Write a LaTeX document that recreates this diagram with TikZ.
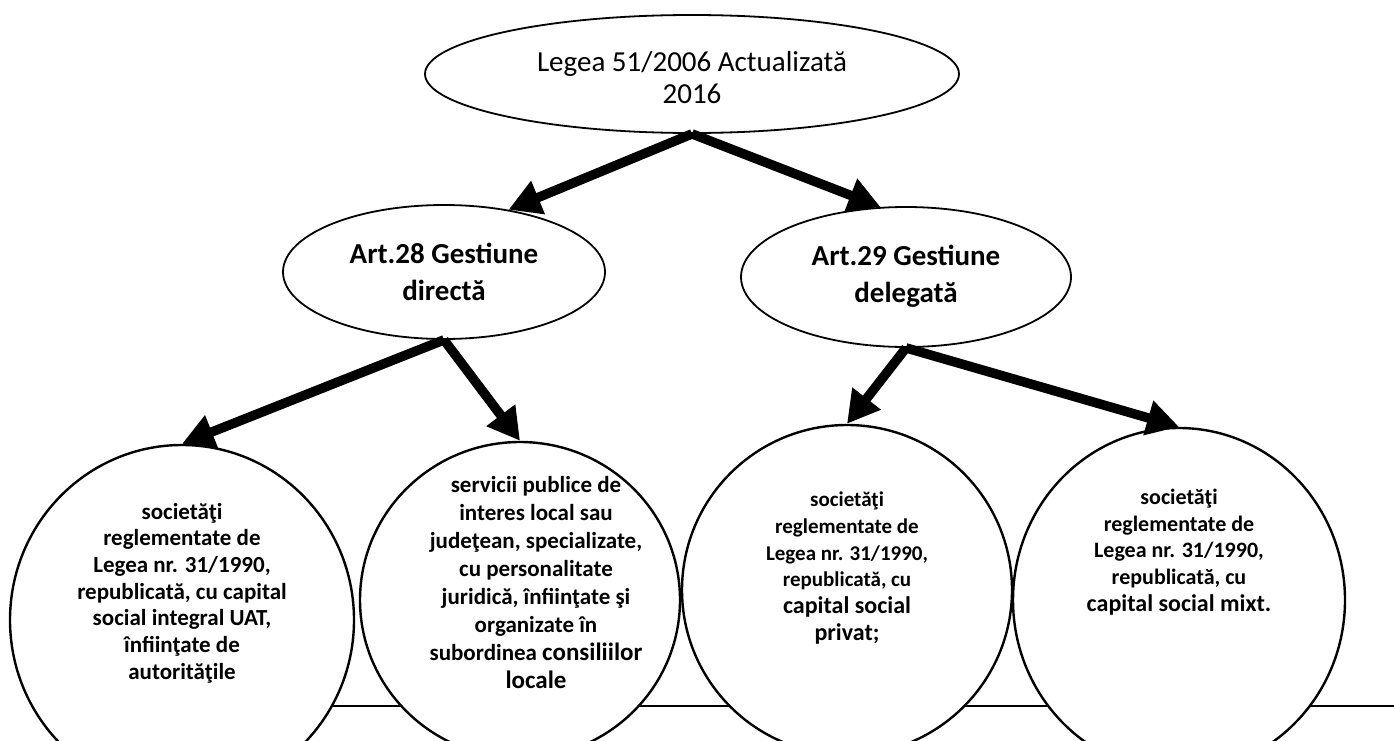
\documentclass[tikz,border=0pt]{standalone}
\usepackage{fontspec}
\setmainfont{Carlito}
\usetikzlibrary{shapes.geometric,arrows.meta}
\begin{document}
\begin{tikzpicture}[x=1pt,y=-1pt,
  oval/.style={ellipse, draw=black, line width=1.8pt, fill=white, inner sep=0pt},
  circ/.style={ellipse, draw=black, line width=2.4pt, fill=white, inner sep=0pt},
  ttext/.style={align=center, font=\fontsize{29}{32}\selectfont},
  htext/.style={align=center, font=\bfseries\fontsize{29}{37}\selectfont},
  ctext/.style={align=center, font=\bfseries\fontsize{22}{26.7}\selectfont},
  bigarrow/.style={line width=9.5pt, -{Triangle[length=32pt,width=34pt]}},
]
\fill[white] (0,0) rectangle (1394,741);
\path[use as bounding box] (0,0) rectangle (1394,741);
\clip (0,0) rectangle (1394,741);

% base line
\coordinate (hl) at (290,706);
\coordinate (hr) at (1394,706);
\draw[line width=1.5pt] (hl) -- (hr);

% bottom circles
\node[circ, minimum width=344pt, minimum height=350pt] (c1) at (182,620) {};
\node[circ, minimum width=320pt, minimum height=316pt] (c2) at (520,600) {};
\node[circ, minimum width=330pt, minimum height=330pt] (c3) at (847,590) {};
\node[circ, minimum width=332pt, minimum height=344pt] (c4) at (1179,600) {};

\node[ctext, font=\bfseries\fontsize{23}{26.7}\selectfont] (c1t) at ([yshift=27pt]c1.center)
 {societăţi\\reglementate de\\Legea nr. 31/1990,\\republicată, cu capital\\social integral UAT,\\înfiinţate de\\autorităţile};
\node[ctext, font=\bfseries\fontsize{23}{28}\selectfont] (c2t) at ([xshift=16pt,yshift=17pt]c2.center)
 {servicii publice de\\interes local sau\\judeţean, specializate,\\cu personalitate\\juridică, înfiinţate şi\\organizate în\\subordinea {\fontsize{25}{28}\selectfont consiliilor}\\{\fontsize{25}{28}\selectfont locale}};
\node[ctext, font=\bfseries\fontsize{21}{26.7}\selectfont] (c3t) at ([yshift=22pt]c3.center)
 {societăţi\\reglementate de\\Legea nr. 31/1990,\\republicată, cu\\{\fontsize{24}{28}\selectfont capital social}\\{\fontsize{24}{28}\selectfont privat;}};
\node[ctext] (c4t) at ([yshift=48pt]c4.center)
 {societăţi\\reglementate de\\Legea nr. 31/1990,\\republicată, cu\\{\fontsize{24}{28}\selectfont capital social mixt.}};

% ellipses
\node[oval, minimum width=534pt, minimum height=118pt] (top) at (692,74) {};
\node[ttext] (topt) at ([yshift=-4pt]top.center) {Legea 51/2006 Actualizată\\2016};
\node[oval, minimum width=322pt, minimum height=134pt, htext] (a28) at (444,272)
 {Art.28 Gestiune\\directă};
\node[oval, minimum width=330pt, minimum height=140pt] (a29) at (906,277) {};
\node[htext] (a29t) at ([yshift=1pt]a29.center) {Art.29 Gestiune\\delegată};

% arrows
\draw[bigarrow] (top.south) -- (a28.44);
\draw[bigarrow] (top.south) -- (a29.110);
\draw[bigarrow] (a28.south) -- (c1.north);
\draw[bigarrow] (a28.south) -- (c2.north);
\draw[bigarrow] (a29.south) -- (c3.north);
\draw[bigarrow] (a29.south) -- (c4.north);
\end{tikzpicture}
\end{document}
